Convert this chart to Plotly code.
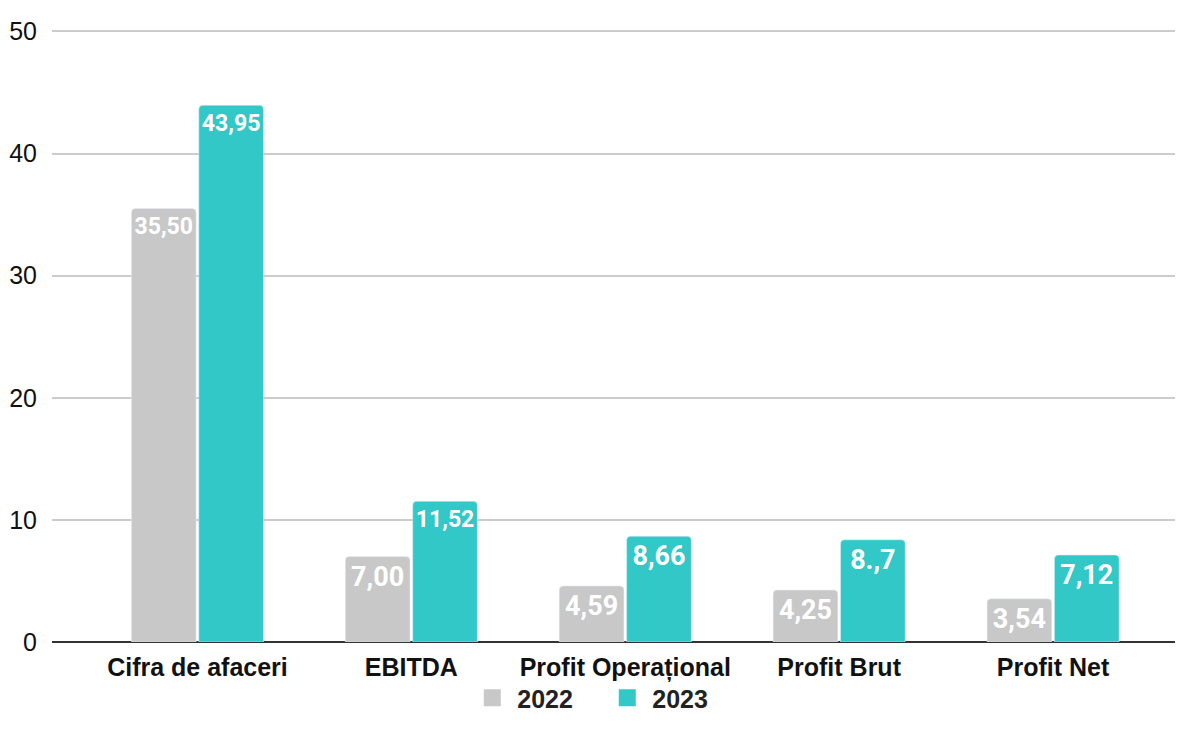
import plotly.graph_objects as go

categories = ["Cifra de afaceri", "EBITDA", "Profit Operațional", "Profit Brut", "Profit Net"]
values_2022 = [35.50, 7.00, 4.59, 4.25, 3.54]
values_2023 = [43.95, 11.52, 8.66, 8.37, 7.12]
labels_2022 = ["35,50", "7,00", "4,59", "4,25", "3,54"]
labels_2023 = ["43,95", "11,52", "8,66", "8.,7", "7,12"]
series_names = ["2022", "2023"]
tick_vals = [0, 10, 20, 30, 40, 50]

GRAY = "#c8c8c8"
TEAL = "#33c8c8"
colors = [GRAY, TEAL]

fig = go.Figure()
for name, vals, labs, col in zip(series_names, [values_2022, values_2023],
                                 [labels_2022, labels_2023], colors):
    fig.add_trace(go.Bar(
        name=name, x=categories, y=vals, text=labs,
        marker=dict(color=col, cornerradius=4),
        textposition="inside", insidetextanchor="end", constraintext="none",
        textangle=0,
        textfont=dict(family="Roboto", size=27, color="white", weight="bold",
                      shadow="0 0 2px " + col),
        hoverinfo="skip", showlegend=False,
    ))

# legend-only entries on a hidden overlaying axis (bigger swatches)
for name, col in zip(series_names, colors):
    fig.add_trace(go.Bar(
        name=name, x=[None], y=[None], xaxis="x2", yaxis="y2",
        marker=dict(color=col, line=dict(color=col, width=14)),
        showlegend=True, hoverinfo="skip",
    ))

fig.update_layout(
    width=1171, height=713,
    margin=dict(l=44, r=4, t=22, b=79),
    paper_bgcolor="white", plot_bgcolor="white",
    barmode="group", bargap=0.37, bargroupgap=0.04,
    showlegend=True,
    legend=dict(orientation="h", x=0.49, xanchor="center",
                yref="container", y=0, yanchor="bottom",
                bgcolor="rgba(0,0,0,0)",
                font=dict(family="Liberation Sans", size=25, color="#222222", weight="bold"),
                itemwidth=40, entrywidth=80, entrywidthmode="pixels", tracegroupgap=0),
    xaxis=dict(
        range=[-0.68, 4.57], automargin=False,
        tickfont=dict(family="Liberation Sans", size=25, color="#111111", weight="bold"),
        showgrid=False, showline=False, ticks="", ticklabelstandoff=8,
    ),
    yaxis=dict(
        range=[0, 50.12], tickvals=tick_vals, automargin=False,
        tickfont=dict(family="Liberation Sans", size=25, color="#111111"),
        showgrid=True, gridcolor="#cccccc", gridwidth=1.5,
        zeroline=True, zerolinecolor="#333333", zerolinewidth=1.5,
        ticks="", ticklabelstandoff=14,
    ),
    xaxis2=dict(overlaying="x", visible=False, range=[0, 1]),
    yaxis2=dict(overlaying="y", visible=False, range=[0, 1]),
)

fig.write_html("out.html")
